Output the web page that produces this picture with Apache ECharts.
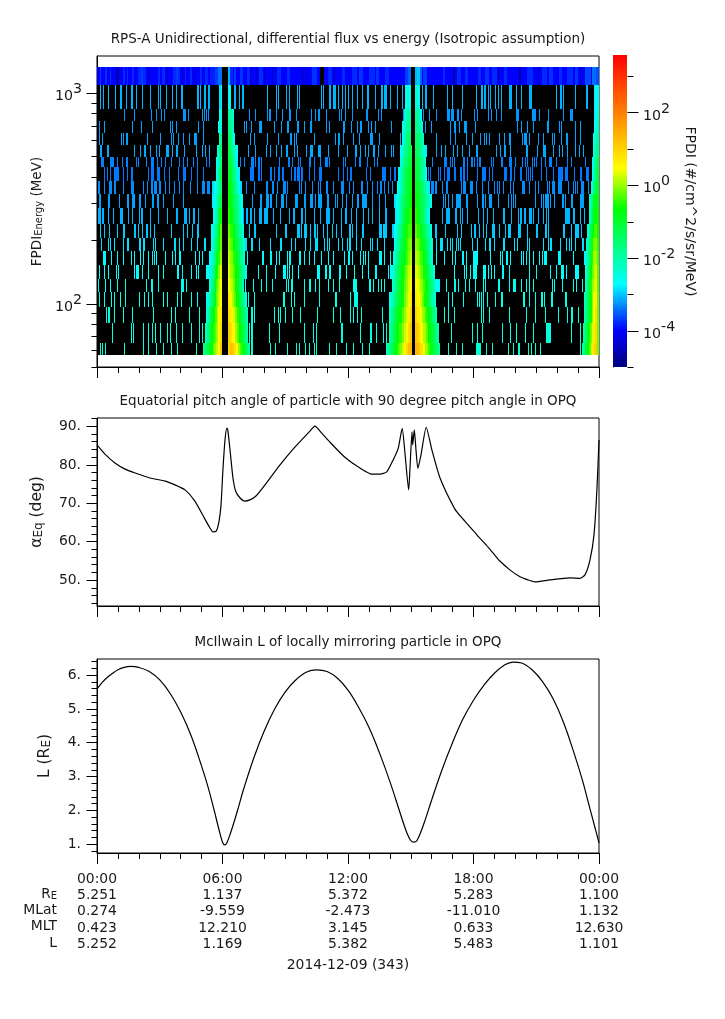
<!DOCTYPE html>
<html><head><meta charset="utf-8">
<style>html,body{margin:0;padding:0;background:#fff}#c{width:725px;height:1019px}</style>
<script src="https://cdn.jsdelivr.net/npm/echarts@6/dist/echarts.min.js"></script>
</head><body><div id="c"></div>
<script>
const FONT='DejaVu Sans', FS=13.5, FL=13.9, INK='#1a1a1a';
const titles=['RPS-A Unidirectional, differential flux vs energy (Isotropic assumption)','Equatorial pitch angle of particle with 90 degree pitch angle in OPQ','McIlwain L of locally mirroring particle in OPQ'];
const xLabels=['00:00','06:00','12:00','18:00','00:00'];
const rowNames=['R_E','MLat','MLT','L'];
const rowValues=[['5.251','1.137','5.372','5.283','1.100'],['0.274','-9.559','-2.473','-11.010','1.132'],['0.423','12.210','3.145','0.633','12.630'],['5.252','1.169','5.382','5.483','1.101']];
const dateLabel='2014-12-09 (343)';
// channel edges, MeV
const energyEdges=[1330,1091,839,736,645,566,496,444,381,330,283,240,204,177,153,131.5,114,96.8,81.2,65.2,57.2];
// one-count log10 flux of each channel
const rowFlux=[-4.0,-3.1,-3.25,-3.2,-3.2,-3.15,-3.35,-3.4,-3.3,-3.2,-3.1,-3.0,-2.88,-2.75,-2.7,-2.6,-2.55,-2.5,-2.45,-2.4];
const binHours=24/502;
// top channel: time bin, width, log10 flux
const topNoise=[[3,1,-3.7],[8,2,-3.8],[13,1,-3.8],[19,3,-4.6],[26,2,-3.8],[30,1,-3.8],[35,2,-3.8],[41,8,-3.8],[44,2,-3.7],[51,1,-4.5],[61,2,-3.8],[65,3,-3.8],[70,1,-4.5],[76,7,-3.8],[79,2,-3.7],[85,1,-4.5],[88,1,-3.8],[93,2,-3.8],[97,1,-4.5],[103,2,-3.8],[108,3,-3.8],[113,5,-3.85],[118,3,-3.7],[121,4,-3.45],[125,6,-9],[131,2,-3.1],[133,3,-3.8],[137,2,-3.7],[143,3,-3.75],[150,3,-3.8],[153,1,-4.6],[159,1,-4.6],[162,4,-3.8],[167,1,-4.6],[175,1,-4.6],[180,4,-3.8],[190,3,-3.8],[205,1,-4.6],[210,1,-4.6],[215,5,-3.75],[223,4,-9],[231,4,-3.8],[237,1,-4.6],[245,3,-3.8],[255,5,-3.8],[262,4,-3.75],[272,6,-3.8],[279,3,-3.75],[288,4,-3.8],[308,3,-3.7],[311,3,-3.5],[314,4,-9],[318,2,-3.1],[320,3,-3.0],[323,2,-3.5],[326,4,-3.7],[346,2,-3.8],[356,2,-4.7],[360,4,-3.8],[368,3,-3.8],[381,3,-3.8],[388,4,-3.75],[395,5,-3.8],[401,1,-4.7],[407,3,-3.8],[422,2,-4.7],[430,6,-3.8],[441,1,-4.7],[445,5,-3.8],[452,4,-3.75],[462,3,-3.8],[470,6,-3.8],[478,3,-3.75],[483,1,-4.7],[488,6,-3.65],[495,4,-3.45],[499,3,-3.6]];
// channels 2-20: time bins with counts, [bin,width] for wider runs
const r02=[3,6,11,18,[23,2],29,[34,2],39,45,53,61,63,69,75,79,[84,2],[100,2],103,[107,2],[111,2],[137,2],142,[145,2],170,179,181,189,192,200,202,224,226,[232,2],[236,3],241,245,248,251,255,260,265,[270,2],278,[287,2],[284,2],289,293,300,305,325,[328,2],336,350,355,365,379,[384,2],[387,2],391,393,398,401,404,[412,3],419,424,[432,3],459,[463,2],466,478,[489,2]];
const r03=[27,37,54,59,64,67,[86,3],91,105,107,109,111,152,158,170,[172,2],179,185,[192,2],199,214,218,[221,2],229,242,244,248,255,[269,2],281,284,306,326,332,339,[350,3],[354,3],[360,2],364,377,380,391,394,399,404,[419,2],421,[435,4],442,451,466,[473,3]];
const r04=[2,7,35,44,55,73,75,79,101,106,147,149,154,[162,3],177,184,[190,2],[200,2],207,[213,2],229,232,[246,2],254,260,[263,2],271,274,278,294,328,334,353,[357,2],362,[367,3],378,420,424,430,436,[450,2],462,464,478,483];
const r05=[2,5,24,26,[29,2],50,63,74,76,81,86,92,[97,3],106,153,157,170,181,[193,2],197,199,217,238,[241,2],246,256,262,[273,3],282,303,339,353,358,369,375,383,387,389,392,402,407,[412,2],425,[427,3],432,441,446,455,457,464,[469,2],478,483];
const r06=[[3,2],[10,2],37,43,[47,2],53,59,62,[69,3],75,[79,2],87,99,105,108,112,151,158,169,173,179,184,[189,2],197,200,209,[213,3],[221,3],231,241,250,[258,2],263,268,271,[276,2],281,288,294,296,339,344,348,356,360,365,372,[379,2],399,403,[407,2],413,[429,2],440,[446,3],456,462,465,470,478,482,486];
const r07=[[4,3],[13,4],20,25,[29,2],39,41,49,[54,3],60,64,68,74,82,86,90,96,100,109,112,143,147,[154,3],158,[161,2],164,182,[191,2],195,201,203,[212,2],217,223,[228,3],232,246,248,258,[262,2],270,277,280,335,[347,2],349,353,355,357,[366,2],370,[374,2],377,380,[382,2],394,396,[404,2],[412,2],414,418,425,428,430,435,437,439,444,448,[452,3],459,470,474,488];
const r08=[7,10,13,[17,5],26,30,34,35,51,[54,3],[60,3],67,72,81,[86,3],94,100,106,[153,3],156,[161,2],164,[173,2],177,[181,2],[185,2],194,[197,2],[200,3],[204,2],212,217,[222,3],241,246,250,[253,2],269,273,[285,4],293,[297,2],331,333,341,343,347,350,[351,2],[357,2],[363,2],[366,2],370,380,[385,4],392,395,[407,3],[413,2],417,[423,2],429,431,433,435,444,449,456,[461,4],465,[468,3],477,[483,2],[489,3]];
const r09=[[1,2],7,[12,3],[17,2],26,[34,3],46,50,[54,2],[57,3],[62,2],68,72,77,82,86,93,100,[105,3],[110,3],143,149,157,[169,2],[175,2],180,[186,3],190,202,204,208,215,221,223,[229,2],236,[244,3],252,256,[264,2],270,275,280,284,291,283,287,295,[334,3],[338,2],345,[349,2],364,[366,3],[373,3],379,385,391,397,400,402,406,413,416,[425,3],432,438,441,450,452,[455,3],[461,4],471,476,478,480,[484,3],491];
const r10=[2,3,11,12,22,[30,2],[35,3],[42,2],48,[55,2],[60,2],66,76,86,[143,2],155,[163,2],[169,3],[173,2],179,[184,3],189,[198,3],[207,2],[213,3],218,[221,3],224,[230,2],238,240,245,249,255,[260,2],[265,5],275,282,288,346,348,351,355,[359,4],363,[369,2],380,[385,2],388,[392,2],394,401,411,414,416,418,438,444,446,[448,3],451,453,457,[465,2],468,[474,2],[483,4],492];
const r11=[[1,3],[5,2],11,16,[23,3],31,35,42,[44,2],53,61,70,[79,2],[87,3],92,[96,2],101,[145,2],[149,2],[153,2],157,[162,3],[167,3],170,176,183,192,[196,2],[204,2],208,217,223,[229,4],236,244,[248,2],254,259,266,271,275,282,[288,2],345,[349,3],352,[358,2],363,365,370,381,386,390,396,[406,2],414,421,[423,2],[427,2],[432,3],436,441,446,449,451,[468,4],472,[476,2],483,487];
const r12=[3,7,12,20,[26,2],[37,2],41,45,[49,2],53,57,74,86,90,95,[100,2],[143,2],152,[157,2],179,[188,2],[200,3],204,[207,3],213,[217,2],220,226,230,235,239,244,[252,2],255,259,[265,2],[282,2],284,[286,4],[295,2],[338,2],348,360,364,374,[377,2],382,386,389,[395,3],402,408,[411,3],[421,3],430,[439,2],[448,2],451,[466,2],474,[478,4],484,[490,3]];
const r13=[4,11,13,17,26,[30,2],[42,2],[46,2],56,58,66,[77,2],82,86,94,100,[107,2],145,[148,2],[154,2],162,173,[183,2],194,198,208,213,[218,3],227,230,232,241,245,250,[252,2],259,264,273,275,280,287,339,[343,2],345,350,353,355,359,361,363,375,380,388,[392,2],397,[406,2],417,420,430,432,446,451,[453,2],463,469,472,474,478,[485,2],[489,2]];
const r14=[[6,3],14,20,26,34,37,43,46,51,55,57,59,68,75,78,[82,2],98,102,105,[112,2],147,150,[165,2],[173,2],179,182,190,[192,2],[202,2],207,212,217,224,231,236,247,[251,2],255,263,266,268,271,[282,3],287,[283,2],293,339,347,355,358,[365,2],369,[376,4],380,393,403,405,[409,2],413,424,426,429,432,436,442,445,[447,3],[461,3],476,[487,3]];
const r15=[2,7,11,19,21,37,[39,3],45,51,61,66,[80,2],85,94,99,101,[109,3],148,161,169,178,[186,3],190,192,195,201,[220,2],222,[228,2],[232,2],[242,2],249,257,265,271,[278,2],291,357,367,369,373,[376,4],[386,3],391,394,397,[405,2],412,432,439,453,459,[464,3],469,[478,4]];
const r16=[1,8,13,20,28,49,[54,2],61,[84,3],89,112,148,156,164,169,175,189,191,[194,2],207,[212,2],218,222,231,236,242,[256,4],[272,2],276,281,287,284,349,[357,2],361,368,372,378,386,388,[401,2],412,[416,3],424,429,432,436,455,457,465,476,479,485];
const r17=[2,7,14,17,23,28,42,47,51,55,66,70,80,84,94,100,109,151,157,[186,2],194,197,207,222,[238,2],253,[257,4],292,293,351,355,366,380,382,384,386,390,398,[404,2],[426,2],432,438,[444,2],447,[454,2],[468,2]];
const r18=[9,[11,2],17,26,35,56,74,78,92,102,[154,2],157,177,181,183,188,195,203,220,236,243,253,256,260,264,285,347,351,357,384,386,392,412,429,438,448,461,470,[474,2],481];
const r19=[15,34,36,46,51,55,58,63,70,73,79,85,94,102,105,152,[154,2],172,182,207,216,219,[244,2],263,[273,2],279,286,289,354,375,380,385,405,413,419,428,436,[449,4],453,474,483];
const r20=[3,5,8,27,46,51,59,66,74,80,99,151,[154,2],173,178,190,199,202,208,212,217,219,232,239,249,256,265,272,[289,3],351,359,365,[379,4],383,389,395,411,416,[421,2],431,434,438,443,483];
const rowBars=[r02,r03,r04,r05,r06,r07,r08,r09,r10,r11,r12,r13,r14,r15,r16,r17,r18,r19,r20];
// radiation-belt flanks per channel: start bin, end bin, log10 flux values in time order
const flanks=[
[[122,125,-2.9,-2.8],[122,125,-2.6,-2.4],[121,125,-2.7,-2.5,-2.3],[122,125,-2.0,-1.7],[120,125,-2.4,-1.9,-1.5],[119,125,-2.6,-2.1,-1.6],[119,125,-2.5,-1.9,-1.2],[115,125,-2.9,-2.7,-2.4,-2.0,-1.5],[115,125,-2.8,-2.6,-2.2,-1.7,-1.1],[116,125,-2.6,-2.2,-1.8,-1.2,-0.7],[114,125,-2.7,-2.3,-1.9,-1.4,-0.8,-0.3],[114,125,-2.6,-2.2,-1.7,-1.1,-0.6,-0.2],[113,125,-2.7,-2.2,-1.6,-1.0,-0.5,0],[112,125,-2.8,-2.2,-1.6,-1.0,-0.6,-0.1,0.3],[112,125,-2.5,-1.9,-1.4,-0.8,-0.3,0.1,0.4],[110,125,-2.6,-2.1,-1.6,-1.1,-0.7,-0.2,0.2,0.5],[109,125,-2.4,-2,-1.5,-1.1,-0.7,-0.3,0.1,0.4,0.7],[108,125,-2.2,-1.7,-1.3,-0.9,-0.6,-0.3,0,0.4,0.9],[106,125,-1.9,-1.5,-1.2,-0.9,-0.6,-0.3,-0.1,0.2,0.5,1.1]],
[[131,134,-2.6,-2.7],[131,137,-1.9,-2.0,-2.4],[131,137,-1.7,-1.9,-2.3],[131,138,-1.4,-1.7,-2.2,-2.5],[131,141,-1.2,-1.5,-1.9,-2.3,-2.7],[131,141,-1,-1.3,-1.7,-2.2,-2.8],[131,143,-0.9,-1.1,-1.5,-1.9,-2.3,-2.8],[131,145,-0.7,-0.9,-1.3,-1.7,-2.1,-2.6,-2.9],[131,146,-0.6,-0.8,-1.2,-1.5,-1.9,-2.3,-2.7],[131,146,-0.5,-0.7,-1.0,-1.4,-1.8,-2.2,-2.6],[131,147,-0.2,-0.5,-0.8,-1.2,-1.6,-2.0,-2.5],[131,148,0,-0.3,-0.7,-1.1,-1.5,-1.9,-2.4],[131,148,0.2,-0.1,-0.5,-0.9,-1.3,-1.8,-2.4],[131,150,0.3,0,-0.3,-0.7,-1.1,-1.5,-2.0,-2.6],[131,147,0.5,0.2,-0.2,-0.6,-1,-1.5,-2.2],[131,150,0.7,0.4,0.1,-0.3,-0.7,-1.1,-1.5,-2.0,-2.5],[131,151,0.9,0.6,0.3,-0.1,-0.5,-0.9,-1.3,-1.7,-2.2],[131,151,1.1,0.8,0.5,0.1,-0.3,-0.7,-1.1,-1.5,-2.0],[131,153,1.0,1.2,1.1,0.8,0.4,0,-0.4,-0.8,-1.1,-1.4,-1.9]],
[[308,314,-2.6,-2.5,-2.5],[307,314,-2.4,-2.2,-2.0,-2.0],[305,314,-2.6,-2.3,-2,-1.8,-1.8],[305,314,-2.5,-2.1,-1.8,-1.6,-1.5],[303,315,-2.7,-2.3,-1.9,-1.6,-1.4,-1.3],[303,315,-2.5,-2.1,-1.7,-1.4,-1.2,-1.1],[301,315,-2.6,-2.2,-1.8,-1.5,-1.2,-1,-0.9],[300,315,-2.7,-2.4,-2,-1.6,-1.3,-1.1,-0.9,-0.8],[297,315,-2.9,-2.7,-2.3,-1.9,-1.6,-1.3,-1.1,-0.8,-0.7],[298,315,-2.8,-2.5,-2.1,-1.7,-1.4,-1.1,-0.8,-0.6,-0.5],[297,315,-2.7,-2.3,-1.9,-1.6,-1.2,-0.9,-0.6,-0.4,-0.3],[297,315,-2.6,-2.2,-1.8,-1.4,-1.1,-0.8,-0.5,-0.2,-0.1],[296,315,-2.5,-2.1,-1.7,-1.3,-1,-0.7,-0.4,-0.1,0.1],[293,315,-2.7,-2.5,-2,-1.6,-1.3,-1,-0.7,-0.4,-0.1,0.2,0.3],[295,315,-2.4,-1.9,-1.5,-1.2,-0.9,-0.6,-0.3,0,0.3,0.5],[294,315,-2.4,-1.9,-1.5,-1.2,-0.9,-0.6,-0.2,0.1,0.4,0.7],[292,315,-2.3,-1.9,-1.5,-1.2,-0.9,-0.6,-0.3,0,0.3,0.6,0.9],[292,315,-2.1,-1.7,-1.3,-1,-0.7,-0.4,-0.1,0.2,0.5,0.8,1.1],[289,315,-2.2,-1.9,-1.5,-1.2,-0.9,-0.6,-0.3,-0.1,0.2,0.5,0.9,1.2,1.3]],
[[318,323,-2.3,-2.4,-2.6],[318,325,-1.9,-2,-2.2,-2.6],[318,326,-1.7,-1.9,-2.1,-2.4],[318,327,-1.5,-1.6,-1.9,-2.2],[318,330,-1.3,-1.5,-1.7,-2,-2.4,-2.8],[318,329,-1.1,-1.3,-1.6,-1.9,-2.4],[318,330,-1,-1.2,-1.5,-1.8,-2.2,-2.7],[318,333,-0.8,-1,-1.2,-1.5,-1.9,-2.3,-2.8],[318,335,-0.7,-0.9,-1.2,-1.5,-1.8,-2.2,-2.6],[318,333,-0.5,-0.7,-1,-1.4,-1.8,-2.2,-2.7],[318,335,-0.3,-0.5,-0.8,-1.2,-1.6,-2,-2.5],[318,336,-0.1,-0.3,-0.6,-1,-1.4,-1.8,-2.4],[318,336,0.1,-0.1,-0.4,-0.8,-1.2,-1.7,-2.3],[318,338,0.3,0.1,-0.2,-0.6,-1,-1.4,-1.9,-2.5],[318,343,0.5,0.3,0,-0.4,-0.8,-1.2,-1.6,-2,-2.7,-2.75],[318,339,0.7,0.5,0.2,-0.2,-0.6,-1,-1.5,-2,-2.5],[318,340,0.9,0.7,0.4,0,-0.4,-0.8,-1.2,-1.6,-2.2],[318,342,1.1,0.9,0.5,0.1,-0.3,-0.7,-1.1,-1.5,-2.0],[318,343,1.3,1.2,0.8,0.4,0,-0.4,-0.8,-1.2,-1.5,-1.9]],
[[497,502,-2.8,-2.6,-2.5],[497,502,-2.8,-2.5,-2.3],[497,502,-2.7,-2.4,-2.2],[496,502,-2.6,-2.2,-1.9],[496,502,-2.5,-2,-1.7],[495,502,-2.6,-2,-1.6,-1.4],[495,502,-2.5,-1.9,-1.4,-1.2],[494,502,-2.5,-1.9,-1.4,-1,-1.1],[492,502,-2.3,-1.8,-1.3,-0.9,-0.8,-0.9],[492,502,-2.3,-1.7,-1.2,-0.7,-0.6,-0.8],[490,502,-2.4,-1.8,-1.3,-0.8,-0.4,-0.3,-0.6],[489,502,-2.3,-1.7,-1.2,-0.6,-0.2,-0.1,-0.5],[489,502,-2.2,-1.6,-1,-0.5,0,0.1,-0.4],[488,502,-2.4,-1.8,-1.2,-0.7,-0.2,0.2,0.3,-0.3],[488,502,-2.2,-1.6,-1,-0.5,0,0.3,0.4,-0.3],[487,502,-2.2,-1.6,-1.1,-0.6,-0.1,0.4,0.6,-0.2],[487,502,-2.1,-1.6,-1.1,-0.6,-0.1,0.4,0.8,-0.2],[486,502,-2,-1.5,-1,-0.6,-0.2,0.3,0.7,0.9,-0.2],[485,502,-2.1,-1.6,-1.1,-0.7,-0.3,0.2,0.7,1.0,1.1,-0.2]]
];
const energyMajor=[100,1000];
const energyMinor=[50,60,70,80,90,200,300,400,500,600,700,800,900];
const cbarMajor=[-4,-2,0,2];
const cbarMinor=[-5,-3,-1,1,3];
const cbarMin=-5, cbarMax=3.55;
// colour scale: log10 flux, r, g, b
const colourStops=[[-5,0,0,127],[-4,0,0,255],[-2.73,0,255,255],[-0.66,0,255,0],[0.44,255,255,0],[3.55,255,0,0]];
// pitch angle curve: hours, degrees
const alphaT=[0,0.38,0.86,1.34,1.82,2.53,3.25,3.73,4.21,4.68,5.16,5.4,5.54,5.69,5.83,5.93,6.02,6.12,6.21,6.26,6.36,6.5,6.64,6.84,7.07,7.31,7.6,8.03,8.75,9.46,10.18,10.42,10.66,11.14,11.85,12.57,13.15,13.53,13.85,14.16,14.4,14.59,14.72,14.9,14.96,15.06,15.09,15.17,15.25,15.34,15.49,15.74,16.01,16.4,17.11,17.45,17.83,18.21,18.55,18.93,19.26,19.74,20.22,20.6,20.94,21.65,22.61,23.09,23.33,23.57,23.76,23.9,24];
const alphaV=[85.1,82.7,80.4,78.8,77.8,76.5,75.7,74.7,73.4,70.5,65.8,63.5,62.5,62.6,65.1,69.5,78.6,86.4,89.5,88.7,83.8,76.5,72.9,71.3,70.5,70.8,71.8,74.7,79.9,84.5,88.7,90,88.7,85.8,81.9,79.1,77.5,77.5,78.1,81.2,84.2,89.4,83.2,73.4,78.6,88.5,85.1,89,83.8,79,82.5,89.7,83.8,76.5,68.4,66.1,63.8,61.4,59.4,57,54.9,52.6,50.8,50,49.5,50,50.5,50.4,51.3,55.2,61.7,73.4,86.4];
const alphaMajor=[50,60,70,80,90];
const alphaMinor=[44,46,48,52,54,56,58,62,64,66,68,72,74,76,78,82,84,86,88,92];
// McIlwain L curve: hours, Re
const lshellT=[0,0.25,0.5,0.75,1,1.3,1.6,2,2.5,3,3.5,4,4.5,5,5.3,5.6,5.8,6,6.1,6.2,6.4,6.7,7,7.5,8,8.5,9,9.5,10,10.5,11,11.5,12,12.5,13,13.5,14,14.5,14.8,15,15.15,15.3,15.6,16,16.5,17,17.5,18,18.5,19,19.5,19.9,20.3,20.8,21.3,21.8,22.3,22.8,23.2,23.5,23.8,24];
const lshellV=[5.58,5.78,5.93,6.05,6.15,6.22,6.25,6.22,6.1,5.85,5.45,4.9,4.2,3.3,2.7,2,1.5,1.05,0.97,1.02,1.35,1.95,2.6,3.55,4.35,5,5.5,5.85,6.08,6.15,6.1,5.9,5.55,5.05,4.45,3.7,2.85,1.9,1.35,1.1,1.05,1.1,1.55,2.3,3.2,4,4.7,5.25,5.7,6.05,6.3,6.38,6.35,6.15,5.8,5.3,4.6,3.7,2.9,2.2,1.5,1.03];
const lshellMajor=[1,2,3,4,5,6];
const lshellMinor=[0.8,1.2,1.4,1.6,1.8,2.2,2.4,2.6,2.8,3.2,3.4,3.6,3.8,4.2,4.4,4.6,4.8,5.2,5.4,5.6,5.8,6.2,6.4];

function colour(f){
  if(f<-6) return '#000';
  const s=colourStops; if(f<=s[0][0]) return `rgb(${s[0][1]},${s[0][2]},${s[0][3]})`;
  for(let i=1;i<s.length;i++) if(f<=s[i][0]){const a=s[i-1],b=s[i],k=(f-a[0])/(b[0]-a[0]);
    return `rgb(${Math.round(a[1]+k*(b[1]-a[1]))},${Math.round(a[2]+k*(b[2]-a[2]))},${Math.round(a[3]+k*(b[3]-a[3]))})`;}
  return 'rgb(255,0,0)';
}
const cells=[]; const push=(b0,w,r,f)=>cells.push([b0*binHours,energyEdges[r+1],(b0+w)*binHours,energyEdges[r],f]);
energyEdges.slice(0,-1).forEach((_,r)=>push(0,502,r,r===0?rowFlux[0]:-9));
topNoise.forEach(n=>push(n[0],n[1],0,n[2]));
rowBars.forEach((bars,i)=>bars.forEach(b=>Array.isArray(b)?push(b[0],b[1],i+1,rowFlux[i+1]):push(b,1,i+1,rowFlux[i+1])));
flanks.forEach(band=>band.forEach((row,i)=>{const [s,e,...vals]=row,w=(e-s)/vals.length;vals.forEach((v,j)=>push(s+j*w,w,i+1,v));}));

const boxes=(param,api)=>{
  const a=api.coord([api.value(0),api.value(3)]),b=api.coord([api.value(2),api.value(1)]);
  const x=Math.round(a[0]),y=Math.round(a[1]),w=Math.max(1,Math.round(b[0])-x),h=Math.round(b[1])-y;
  return {type:'rect',shape:{x,y,width:w,height:h},style:{fill:colour(api.value(4))}};
};
const tickRender=(dir,labels)=>(param,api)=>{
  const v=api.value(1),p=api.coord([api.value(0),v]),y=Math.round(p[1])+.5,x=Math.round(p[0])+.5,len=api.value(2);
  const line={type:'line',shape:{x1:x,y1:y,x2:x+dir*len,y2:y},style:{stroke:'#000',lineWidth:1}};
  if(!labels||len>-8) return line;
  return {type:'group',children:[line,{type:'text',style:{x:81,y:y,text:v+'.',align:'right',verticalAlign:'middle',fontFamily:FONT,fontSize:FL,fill:INK}}]};
};
const mk=(maj,min)=>[...maj.map(v=>[0,v,-11]),...min.map(v=>[0,v,-6])];
const E_TICK=mk(energyMajor,energyMinor);
const levels=[]; for(let f=cbarMin;f<cbarMax;f+=0.03) levels.push([0,Math.pow(10,f),1,Math.pow(10,f+0.035),f]);
const C_TICK=[...cbarMajor.map(v=>[1,Math.pow(10,v),11]),...cbarMinor.map(v=>[1,Math.pow(10,v),6])];

const grids=[{left:97,top:56,width:502,height:311},{left:97,top:418,width:502,height:188},{left:97,top:659,width:502,height:194},{left:613,top:56,width:14,height:311}];
const tAxis=(i,extra)=>Object.assign({type:'value',gridIndex:i,min:0,max:24,interval:6,splitLine:{show:false},
  axisLine:{lineStyle:{color:'#000',width:1}},axisTick:{length:11,lineStyle:{color:'#000'}},
  minorTick:{show:true,splitNumber:6,length:6,lineStyle:{color:'#000'}},minorSplitLine:{show:false},axisLabel:{show:false}},extra||{});
const rich={b:{fontFamily:FONT,fontSize:14.2,color:INK,padding:[7,0,0,0],verticalAlign:'bottom'},s:{fontFamily:FONT,fontSize:14.2,color:INK,verticalAlign:'top'}};
const pow10=v=>{const e=Math.round(Math.log10(v));return `{b|10}{s|${e}}`;};
const nameSub={t:{fontFamily:FONT,fontSize:FS,color:INK},u:{fontFamily:FONT,fontSize:10,color:INK,verticalAlign:'bottom',padding:[4,0,0,0]}};
const nameBig={t:{fontFamily:FONT,fontSize:15.5,color:INK},u:{fontFamily:FONT,fontSize:12,color:INK,verticalAlign:'bottom',padding:[5,0,0,0]}};
const plainY=(i,mn,mx,extra)=>Object.assign({type:'value',gridIndex:i,min:mn,max:mx,splitLine:{show:false},axisLine:{lineStyle:{color:'#000'}},axisTick:{show:false},minorTick:{show:false},axisLabel:{show:false}},extra);

const option={animation:false,backgroundColor:'#fff',textStyle:{fontFamily:FONT},
 title:[[40,0],[402,1],[643,2]].map(([y,i])=>({text:titles[i],left:348,top:y-8,padding:0,textAlign:'center',textStyle:{fontFamily:FONT,fontSize:FS,fontWeight:'normal',color:INK}})),
 grid:grids.map((g,i)=>Object.assign({show:i<3,borderColor:'#000',borderWidth:1,backgroundColor:'transparent',containLabel:false},g)),
 xAxis:[tAxis(0),tAxis(1),tAxis(2,{axisLabel:{show:true,margin:18,fontFamily:FONT,fontSize:FL,color:INK,lineHeight:16.3,verticalAlign:'top',
   formatter:v=>{const i=v/6;return [xLabels[i],...rowValues.map(r=>r[i])].join('\n');}}}),
   {type:'value',gridIndex:3,min:0,max:1,show:false}],
 yAxis:[
  {type:'log',gridIndex:0,logBase:10,min:50,max:1500,splitLine:{show:false},axisTick:{show:false},minorTick:{show:false},axisLine:{lineStyle:{color:'#000'}},
   axisLabel:{margin:15,rich,formatter:v=>energyMajor.includes(Math.round(v))?pow10(v):''},
   name:'{t|FPDI}{u|Energy}{t| (MeV)}',nameLocation:'middle',nameGap:52,nameRotate:90,nameTextStyle:{rich:nameSub}},
  plainY(1,43.2,92.1,{name:'{t|α}{u|Eq}{t| (deg)}',nameLocation:'middle',nameGap:52,nameRotate:90,nameTextStyle:{rich:nameBig}}),
  plainY(2,0.73,6.47,{name:'{t|L (R}{u|E}{t|)}',nameLocation:'middle',nameGap:44,nameRotate:90,nameTextStyle:{rich:nameBig}}),
  {type:'log',gridIndex:3,logBase:10,min:1e-5,max:Math.pow(10,cbarMax),position:'right',splitLine:{show:false},axisTick:{show:false},minorTick:{show:false},axisLine:{lineStyle:{color:'#000'}},
   axisLabel:{margin:16,rich,formatter:v=>cbarMajor.includes(Math.round(Math.log10(v)))&&Math.abs(Math.log10(v)-Math.round(Math.log10(v)))<1e-6?pow10(v):''},
   name:'FPDI (#/cm^2/s/sr/MeV)',nameLocation:'middle',nameGap:56,nameRotate:-90,nameTextStyle:{fontFamily:FONT,fontSize:14,color:INK}}
 ],
 series:[
  {type:'custom',name:'FPDI',xAxisIndex:0,yAxisIndex:0,silent:true,renderItem:boxes,encode:{x:[0,2],y:[1,3]},data:cells,z:1},
  {type:'custom',name:'energyTicks',xAxisIndex:0,yAxisIndex:0,silent:true,clip:false,renderItem:tickRender(1),encode:{x:0,y:1},data:E_TICK,z:3},
  {type:'line',name:'alpha',xAxisIndex:1,yAxisIndex:1,showSymbol:false,symbol:'none',silent:true,lineStyle:{color:'#000',width:1.2},data:alphaT.map((t,i)=>[t,alphaV[i]]),smooth:0.2,z:3},
  {type:'custom',name:'alphaTicks',xAxisIndex:1,yAxisIndex:1,silent:true,clip:false,renderItem:tickRender(1,true),encode:{x:0,y:1},data:mk(alphaMajor,alphaMinor),z:3},
  {type:'line',name:'L',xAxisIndex:2,yAxisIndex:2,showSymbol:false,symbol:'none',silent:true,lineStyle:{color:'#000',width:1.2},data:lshellT.map((t,i)=>[t,lshellV[i]]),smooth:0.4,z:3},
  {type:'custom',name:'lshellTicks',xAxisIndex:2,yAxisIndex:2,silent:true,clip:false,renderItem:tickRender(1,true),encode:{x:0,y:1},data:mk(lshellMajor,lshellMinor),z:3},
  {type:'custom',name:'colourbar',xAxisIndex:3,yAxisIndex:3,silent:true,renderItem:boxes,encode:{x:[0,2],y:[1,3]},data:levels,z:1},
  {type:'custom',name:'cbarTicks',xAxisIndex:3,yAxisIndex:3,silent:true,clip:false,renderItem:tickRender(1),encode:{x:0,y:1},data:C_TICK,z:3}
 ],
 graphic:[
  ...rowNames.map((n,i)=>({type:'text',x:57,y:894+i*16.3,style:{text:n==='R_E'?'{t|R}{u|E}':n,rich:nameSub,fontFamily:FONT,fontSize:FL,fill:INK,align:'right',verticalAlign:'middle'}})),
  {type:'text',x:348,y:965,style:{text:dateLabel,fontFamily:FONT,fontSize:FL,fill:INK,align:'center',verticalAlign:'middle'}}
 ]
};
echarts.init(document.getElementById('c'),null,{renderer:'canvas'}).setOption(option);
</script></body></html>
